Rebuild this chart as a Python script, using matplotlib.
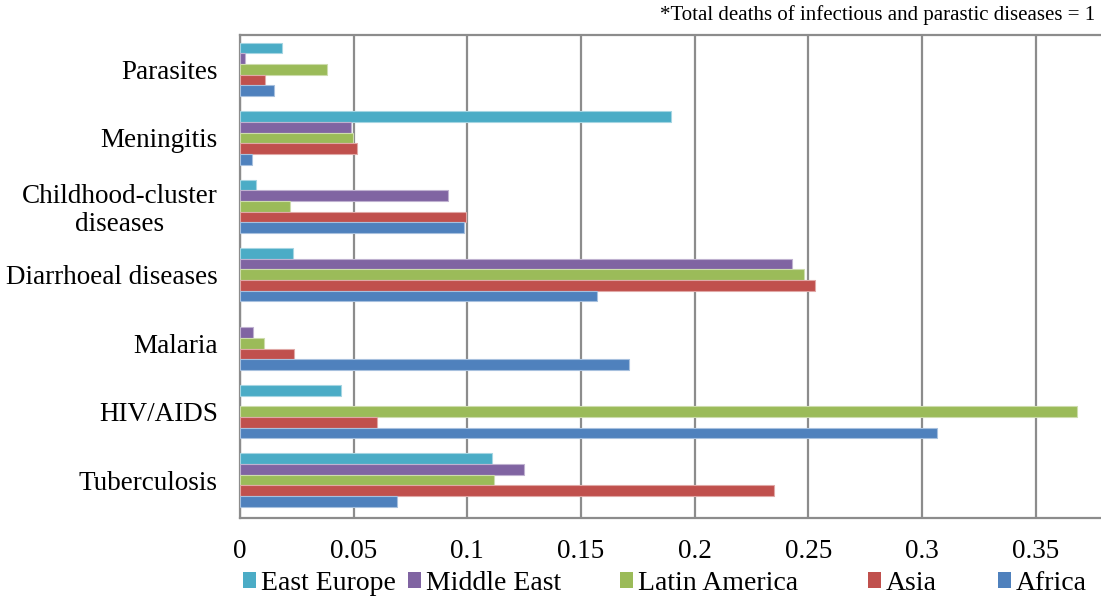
import numpy as np
import matplotlib.pyplot as plt
from matplotlib.patches import Patch

plt.rcParams['font.family'] = ['Liberation Serif', 'DejaVu Serif']

# categories bottom -> top
categories = ['Tuberculosis', 'HIV/AIDS', 'Malaria', 'Diarrhoeal diseases',
              'Childhood-cluster\ndiseases', 'Meningitis', 'Parasites']

# share of total infectious/parasitic deaths, same order as categories
east_europe = [0.1107, 0.0446, 0.0, 0.0233, 0.0070, 0.1895, 0.0183]
middle_east = [0.1249, 0.0, 0.0056, 0.2430, 0.0916, 0.0489, 0.0023]
latin_america = [0.1117, 0.3681, 0.0107, 0.2480, 0.0220, 0.0496, 0.0384]
asia = [0.2348, 0.0602, 0.0239, 0.2527, 0.0992, 0.0516, 0.0109]
africa = [0.0689, 0.3066, 0.1712, 0.1570, 0.0984, 0.0053, 0.0148]

series = ['East Europe', 'Middle East', 'Latin America', 'Asia', 'Africa']
values = [east_europe, middle_east, latin_america, asia, africa]
colors = ['#4BACC6', '#8064A2', '#9BBB59', '#C0504D', '#4F81BD']
edges = ['#a5d5e2', '#bfb1d0', '#cddcac', '#e0a8a6', '#a7c0de']

fig = plt.figure(figsize=(11.01, 5.99), dpi=100)
ax = fig.add_axes([240 / 1101, 1 - 518 / 599, 861 / 1101, 483 / 599])

y = np.arange(len(categories))
h = 0.156
for i, (name, vals) in enumerate(zip(series, values)):
    # East Europe on top of each group, Africa at the bottom
    offset = (2 - i) * h
    vals = np.array(vals)
    ax.barh(y + offset, vals, height=h, color=colors[i],
            edgecolor=[edges[i] if v > 0 else 'none' for v in vals],
            linewidth=0.8, label=name, zorder=3)

ax.set_xlim(0, 0.3787)
ax.set_ylim(-0.555, len(categories) - 0.496)
ax.set_xticks(np.arange(0, 0.36, 0.05))
ax.set_xticklabels(['0', '0.05', '0.1', '0.15', '0.2', '0.25', '0.3', '0.35'])
ax.set_yticks(y)
ax.set_yticklabels(categories, ha='right', multialignment='center',
                   linespacing=1.15)
ax.tick_params(axis='y', length=0, pad=16, labelsize=19.5)
ax.tick_params(axis='x', length=0, pad=15, labelsize=19.5)

ax.grid(axis='x', color='#8c8c8c', linewidth=1.6, zorder=0)
for side in ['left', 'bottom', 'top']:
    ax.spines[side].set_color('#8c8c8c')
    ax.spines[side].set_linewidth(1.6)
ax.spines['right'].set_visible(False)

# legend entries spaced along the bottom edge
legend_x = [243, 408, 620, 868, 998]
for name, c, lx in zip(series, colors, legend_x):
    fig.legend([Patch(facecolor=c, edgecolor='none')], [name],
               loc='center left', bbox_to_anchor=(lx / 1101, 1 - 583 / 599),
               frameon=False, fontsize=20, handlelength=0.45,
               handleheight=0.5, handletextpad=0.2, borderpad=0,
               borderaxespad=0)

fig.text(0.995, 1 - 15 / 599, '*Total deaths of infectious and parastic diseases = 1',
         ha='right', va='center', fontsize=15)

fig.savefig('out.png', dpi=100)
